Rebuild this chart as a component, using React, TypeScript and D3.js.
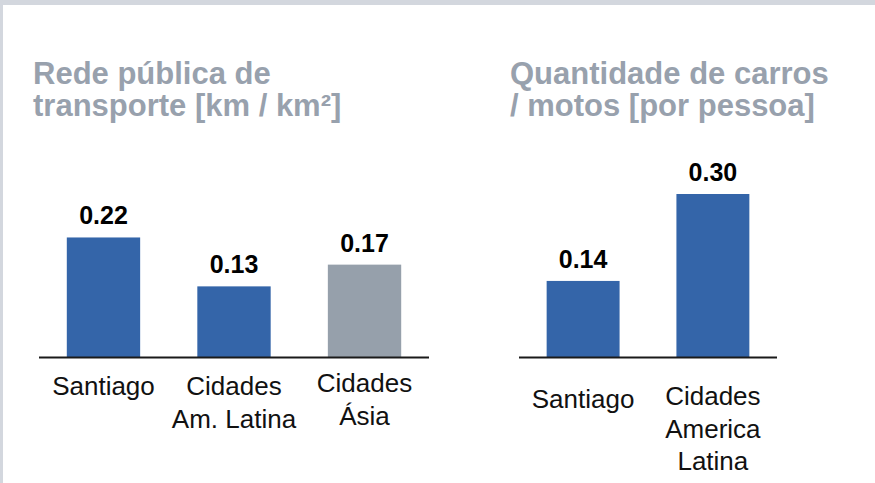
import React, { useEffect, useRef } from "react";
import * as d3 from "d3";

// left panel: public transport network
const transitCategories = [["Santiago"], ["Cidades", "Am. Latina"], ["Cidades", "Ásia"]];
const transitValues = [0.22, 0.13, 0.17];
const transitColors = ["#3465a9", "#3465a9", "#96a0ab"];
const transitTitle = ["Rede pública de", "transporte [km / km²]"];

// right panel: cars / motorbikes per person
const carCategories = [["Santiago"], ["Cidades", "America", "Latina"]];
const carValues = [0.14, 0.3];
const carColors = ["#3465a9", "#3465a9"];
const carTitle = ["Quantidade de carros", "/ motos [por pessoa]"];

const W = 875;
const H = 483;
const BASE_Y = 357;
const FONT = "Liberation Sans, Arial, sans-serif";

const App = () => {
  const ref = useRef(null);

  useEffect(() => {
    const svg = d3.select(ref.current);
    svg.selectAll("*").remove();

    // gray frame on top / left
    svg.append("rect").attr("width", W).attr("height", H).attr("fill", "#d3d7de");
    svg.append("rect").attr("x", 3).attr("y", 5).attr("width", W - 3).attr("height", H - 5).attr("fill", "#ffffff");

    const y = d3.scaleLinear().domain([0, 0.3]).range([BASE_Y, BASE_Y - 163]);

    const panel = (opts) => {
      const { cats, vals, colors, title, range, titleX, labelY } = opts;
      const g = svg.append("g");
      const x = d3
        .scaleBand()
        .domain(cats.map((c, i) => i))
        .range(range)
        .paddingInner(0.438)
        .paddingOuter(0.213);

      // title
      title.forEach((line, i) => {
        g.append("text")
          .attr("x", titleX)
          .attr("y", 84 + i * 32)
          .attr("font-family", FONT)
          .attr("font-weight", "bold")
          .attr("font-size", 31)
          .attr("fill", "#98a1ad")
          .text(line);
      });

      // bars
      g.selectAll("rect.bar")
        .data(vals)
        .join("rect")
        .attr("class", "bar")
        .attr("x", (d, i) => x(i))
        .attr("y", (d) => y(d))
        .attr("width", x.bandwidth())
        .attr("height", (d) => y(0) - y(d))
        .attr("fill", (d, i) => colors[i]);

      // value labels
      g.selectAll("text.val")
        .data(vals)
        .join("text")
        .attr("class", "val")
        .attr("x", (d, i) => x(i) + x.bandwidth() / 2)
        .attr("y", (d) => y(d) - 13)
        .attr("text-anchor", "middle")
        .attr("font-family", FONT)
        .attr("font-weight", "bold")
        .attr("font-size", 25)
        .attr("fill", "#000")
        .text((d) => d.toFixed(2));

      // baseline
      g.append("line")
        .attr("x1", range[0])
        .attr("x2", range[1])
        .attr("y1", y(0) + 0.5)
        .attr("y2", y(0) + 0.5)
        .attr("stroke", "#1a1a1a")
        .attr("stroke-width", 2);

      // category labels
      cats.forEach((lines, i) => {
        lines.forEach((line, j) => {
          g.append("text")
            .attr("x", x(i) + x.bandwidth() / 2)
            .attr("y", labelY[i] + j * 32.5)
            .attr("text-anchor", "middle")
            .attr("font-family", FONT)
            .attr("font-size", 26)
            .attr("fill", "#111")
            .text(line);
        });
      });
    };

    panel({
      cats: transitCategories,
      vals: transitValues,
      colors: transitColors,
      title: transitTitle,
      range: [39, 429],
      titleX: 33,
      labelY: [395, 395, 392],
    });

    panel({
      cats: carCategories,
      vals: carValues,
      colors: carColors,
      title: carTitle,
      range: [519, 777],
      titleX: 510,
      labelY: [408, 405],
    });
  }, []);

  return (
    <svg
      ref={ref}
      width={W}
      height={H}
      style={{ position: "absolute", left: 0, top: 0, display: "block" }}
    ></svg>
  );
};

export default App;
